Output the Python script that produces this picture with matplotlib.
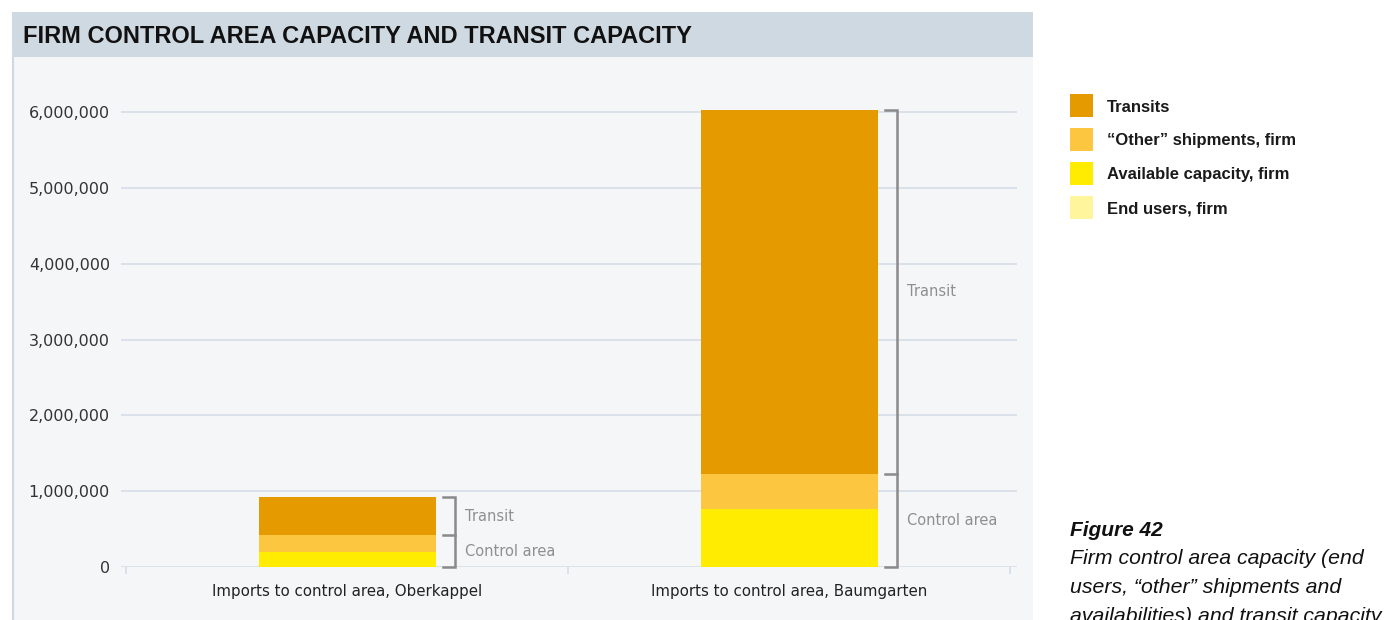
import matplotlib
matplotlib.use("Agg")
import matplotlib.pyplot as plt
from matplotlib.patches import Rectangle
from matplotlib.ticker import FuncFormatter, FixedLocator

# Data (firm capacities per import point)
categories = ["Imports to control area, Oberkappel", "Imports to control area, Baumgarten"]
end_users = [0, 0]
available = [200000, 765000]
other_shipments = [220000, 462000]
transits = [500000, 4800000]

series_names = ["End users, firm", "Available capacity, firm", "\u201cOther\u201d shipments, firm", "Transits"]
series_colors = ["#fff59d", "#ffec00", "#fdc640", "#e59b00"]
yticks = [0, 1000000, 2000000, 3000000, 4000000, 5000000, 6000000]

W, H = 1397, 620
fig = plt.figure(figsize=(W / 100, H / 100), dpi=100)
fig.patch.set_facecolor("white")

def fx(px):
    return px / W

def fy(py):
    return 1 - py / H

SANS = ["DejaVu Sans"]
BODY = ["Liberation Sans", "DejaVu Sans"]

# Panel background and title bar
fig.add_artist(Rectangle((fx(12), 0), fx(1033) - fx(12), fy(57), transform=fig.transFigure,
                         facecolor="#f4f6f8", edgecolor="none", zorder=-10))
fig.add_artist(Rectangle((fx(12), fy(57)), fx(1033) - fx(12), fy(12) - fy(57), transform=fig.transFigure,
                         facecolor="#cfd9e2", edgecolor="none", zorder=-10))
fig.add_artist(plt.Line2D([fx(12.5), fx(12.5)], [0, fy(57)], transform=fig.transFigure,
                          color="#cfd9e2", lw=1.5, zorder=-9))
fig.text(fx(23), fy(36.5), "FIRM CONTROL AREA CAPACITY AND TRANSIT CAPACITY", fontsize=17,
         fontweight="bold", family=["Liberation Sans Narrow", "Liberation Sans", "DejaVu Sans"],
         color="#111111", va="center", ha="left")

# Plot area
ax_left, ax_right, ax_top, ax_bottom = 121, 1017, 80, 567
ax = fig.add_axes([fx(ax_left), fy(ax_bottom), fx(ax_right) - fx(ax_left), fy(ax_top) - fy(ax_bottom)])
ax.set_facecolor("none")
px_per_cat = 442.0
c0 = 347.5
ax.set_xlim(-(c0 - ax_left) / px_per_cat, (ax_right - c0) / px_per_cat)
ymax = 6000000 * (ax_bottom - ax_top) / (ax_bottom - 112)
ax.set_ylim(0, ymax)

x = [0, 1]
bar_w = 0.4
bottoms = [0, 0]
stack = [end_users, available, other_shipments, transits]
for vals, name, col in zip(stack, series_names, series_colors):
    ax.bar(x, vals, width=bar_w, bottom=bottoms, color=col, label=name, zorder=3, linewidth=0)
    bottoms = [b + v for b, v in zip(bottoms, vals)]

# Grid and axes styling
for s in ax.spines.values():
    s.set_visible(False)
ax.yaxis.set_major_locator(FixedLocator(yticks))
ax.yaxis.set_major_formatter(FuncFormatter(lambda v, p: f"{int(v):,}"))
ax.grid(axis="y", color="#d5dde6", lw=1.2, zorder=0)
ax.tick_params(axis="y", length=0, pad=8, labelsize=11.5, labelcolor="#333333")
ax.set_xticks(x)
ax.set_xticklabels(categories, fontsize=10.8, color="#222222")
ax.tick_params(axis="x", length=0, pad=12)
ax.set_xticks([-0.5, 0.5, 1.5], minor=True)
ax.tick_params(axis="x", which="minor", length=5, color="#d5dde6", width=1.2)
for lab in ax.get_yticklabels() + ax.get_xticklabels():
    lab.set_family(SANS)

# Brackets separating control area and transit capacity
br_col = "#8a8a8a"
for i in range(2):
    ctrl = end_users[i] + available[i] + other_shipments[i]
    total = ctrl + transits[i]
    xb = i + bar_w / 2 + 19 / px_per_cat
    xt = i + bar_w / 2 + 7 / px_per_cat
    ax.plot([xt, xb, xb, xt], [total, total, ctrl, ctrl], color=br_col, lw=1.8,
            solid_joinstyle="miter", clip_on=False, zorder=4)
    ax.plot([xb, xb, xt], [ctrl, 0, 0], color=br_col, lw=1.8,
            solid_joinstyle="miter", clip_on=False, zorder=4)
    xl = i + bar_w / 2 + 29 / px_per_cat
    ax.text(xl, (ctrl + total) / 2, "Transit", color="#8f8f8f", fontsize=10.5, va="center",
            family=SANS)
    ax.text(xl, ctrl / 2, "Control area", color="#8f8f8f", fontsize=10.5, va="center",
            family=SANS)

# Legend
for k, (name, col) in enumerate(zip(reversed(series_names), reversed(series_colors))):
    top = 94 + k * 34
    fig.add_artist(Rectangle((fx(1070), fy(top + 23)), fx(23), fy(0) - fy(23),
                             transform=fig.transFigure, facecolor=col, edgecolor="none"))
    fig.text(fx(1107), fy(top + 13), name, fontsize=12, fontweight="bold", color="#1a1a1a",
             va="center", ha="left", family=BODY)

# Caption
fig.text(fx(1070), fy(531), "Figure 42", fontsize=15, fontweight="bold", style="italic",
         color="#111111", va="center", family=BODY)
caption = ["Firm control area capacity (end", "users, \u201cother\u201d shipments and",
           "availabilities) and transit capacity"]
for j, line in enumerate(caption):
    fig.text(fx(1070), fy(559 + j * 28.5), line, fontsize=15.3, style="italic", color="#111111",
             va="center", family=BODY)

fig.savefig("out.png", dpi=100)
